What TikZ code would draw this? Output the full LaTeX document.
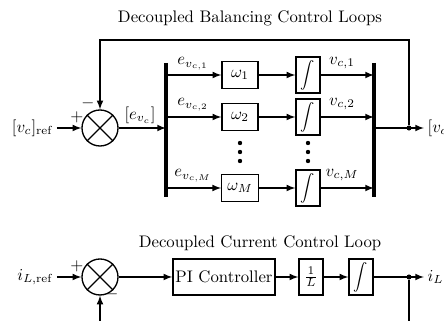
\documentclass[tikz,border=0pt]{standalone}
\usepackage{xcolor}
\usepackage{amsmath}
\usepackage{tikz}
\usetikzlibrary{shapes,arrows,positioning,calc}
\tikzstyle{arrow} = [thick,->,>=latex]
\tikzstyle{block} = [rectangle, minimum height=0.756cm, inner sep=1.5pt, text centered, draw=black, thick]
\tikzstyle{gain} = [rectangle, minimum width=0.756cm, minimum height=0.567cm, text centered, draw=black, thick]
\tikzstyle{integ} = [rectangle, minimum width=0.504cm, minimum height=0.756cm, inner sep=0pt, text centered, draw=black, thick]
\tikzstyle{sum} = [circle, minimum size=0.756cm, draw=black, thick]
\tikzstyle{bus} = [line width=2.4pt]
\tikzstyle{junction} = [circle, fill=black, inner sep=0pt, minimum size=3pt]
\tikzstyle{vdot} = [circle, fill=black, inner sep=0pt, minimum size=2.6pt]
\tikzstyle{label} = [inner sep=2pt]
\newcommand{\intsym}{{\footnotesize$\displaystyle\int$}}

\begin{document}
\begin{tikzpicture}[x=0.021cm, y=-0.021cm]
\clip (0,0) rectangle (444,321);

\node (TitleV) at (250,18) {Decoupled Balancing Control Loops};
\node (SumV) [sum] at (100,128) {};
\draw[thick] (SumV.north west) -- (SumV.south east) (SumV.north east) -- (SumV.south west);
\node (RefV) [label, anchor=east] at (57,128) {$[v_c]_{\mathrm{ref}}$};
\node (PlusV) at (77,117) {$+$};
\node (MinusV) at (88,103) {$-$};
\node (ErrV) at (140,115) {$[e_{v_c}]$};

\coordinate (BusLTop) at (166,63);
\coordinate (BusLBot) at (166,197);
\coordinate (BusRTop) at (374,63);
\coordinate (BusRBot) at (374,197);
\draw[bus] (BusLTop) -- (BusLBot);
\draw[bus] (BusRTop) -- (BusRBot);

\node (OmegaOne) [gain] at (240,75) {$\omega_1$};
\node (OmegaTwo) [gain] at (240,117) {$\omega_2$};
\node (OmegaM) [gain] at (240,188) {$\omega_M$};
\node (IntOne) [integ] at (308,75) {\intsym};
\node (IntTwo) [integ] at (308,117) {\intsym};
\node (IntM) [integ] at (308,188) {\intsym};

\node (EOne) at (193,64) {$e_{v_{c,1}}$};
\node (ETwo) at (193,105) {$e_{v_{c,2}}$};
\node (EM) at (193,176) {$e_{v_{c,M}}$};
\node (VOne) at (342,63) {$v_{c,1}$};
\node (VTwo) at (342,104) {$v_{c,2}$};
\node (VM) at (342,175) {$v_{c,M}$};

\node (DotA1) [vdot] at (240,143) {};
\node (DotA2) [vdot] at (240,152) {};
\node (DotA3) [vdot] at (240,161) {};
\node (DotB1) [vdot] at (308,143) {};
\node (DotB2) [vdot] at (308,152) {};
\node (DotB3) [vdot] at (308,161) {};

\draw[arrow] (RefV) -- (SumV);
\draw[arrow] (SumV) -- (BusLTop |- SumV);
\draw[arrow] (BusLTop |- OmegaOne) -- (OmegaOne);
\draw[arrow] (BusLTop |- OmegaTwo) -- (OmegaTwo);
\draw[arrow] (BusLTop |- OmegaM) -- (OmegaM);
\draw[arrow] (OmegaOne) -- (IntOne);
\draw[arrow] (OmegaTwo) -- (IntTwo);
\draw[arrow] (OmegaM) -- (IntM);
\draw[arrow] (IntOne) -- (BusRTop |- IntOne);
\draw[arrow] (IntTwo) -- (BusRTop |- IntTwo);
\draw[arrow] (IntM) -- (BusRTop |- IntM);

\node (JunV) [junction] at (409,128) {};
\node (OutV) [label, anchor=west] at (424,128) {$[v_c]$};
\coordinate (FbV) at (409,40);
\draw[arrow] (BusRTop |- SumV) -- (OutV);
\draw[arrow] (JunV) -- (FbV) -| (SumV.north);

\node (TitleI) at (260,243) {Decoupled Current Control Loop};
\node (SumI) [sum] at (100,277) {};
\draw[thick] (SumI.north west) -- (SumI.south east) (SumI.north east) -- (SumI.south west);
\node (RefI) [label, anchor=east] at (57,277) {$i_{L,\mathrm{ref}}$};
\node (PlusI) at (77,266) {$+$};
\node (MinusI) at (112,294) {$-$};
\node (PI) [block] at (224,277) {PI Controller};
\node (InvL) [integ] at (311,277) {$\frac{1}{L}$};
\node (IntI) [integ] at (361,277) {\intsym};
\node (JunI) [junction] at (409,277) {};
\node (OutI) [label, anchor=west] at (424,277) {$i_L$};
\coordinate (FbI) at (409,335);

\draw[arrow] (RefI) -- (SumI);
\draw[arrow] (SumI) -- (PI);
\draw[arrow] (PI) -- (InvL);
\draw[arrow] (InvL) -- (IntI);
\draw[arrow] (IntI) -- (OutI);
\draw[arrow] (JunI) -- (FbI) -| (SumI.south);
\end{tikzpicture}
\end{document}
